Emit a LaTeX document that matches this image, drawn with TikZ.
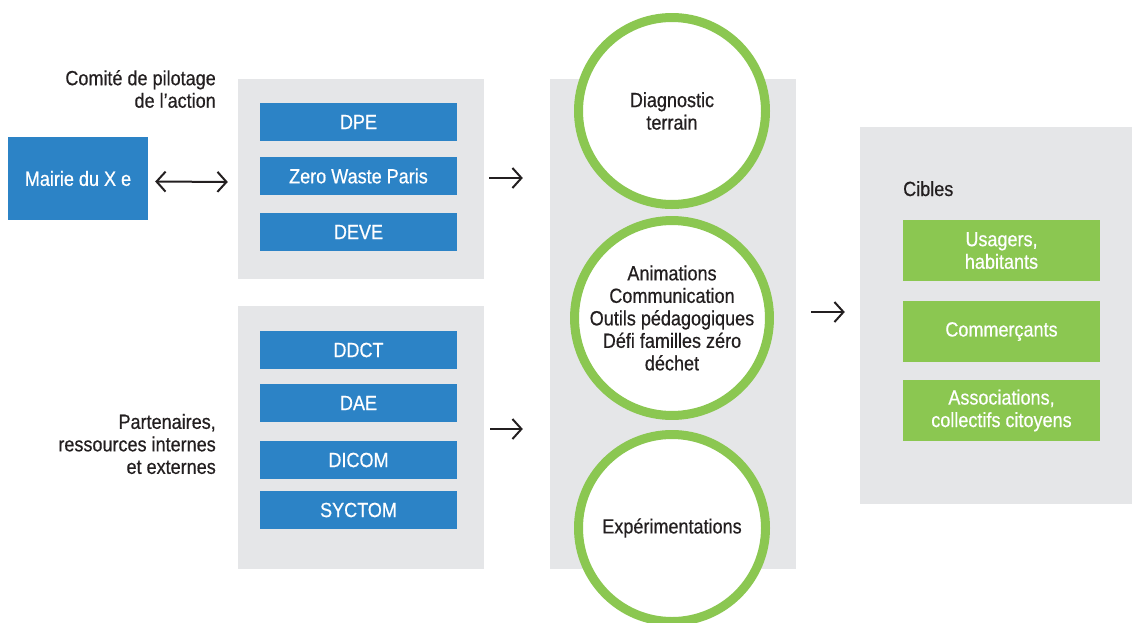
\documentclass[tikz,border=0pt]{standalone}
\usepackage{fontspec}
\setmainfont[FakeStretch=0.88, FakeBold=0.5]{Liberation Sans}
\usetikzlibrary{arrows.meta, positioning, calc}

\definecolor{bleu}{HTML}{2C83C6}
\definecolor{vert}{HTML}{8BC751}
\definecolor{gris}{HTML}{E5E6E8}
\definecolor{encre}{HTML}{231F20}

\tikzset{
	panneau/.style={fill=gris, inner sep=0pt},
	service/.style={fill=bleu, text=white, minimum width=197pt, minimum height=38pt, inner sep=0pt, align=center},
	cible/.style={fill=vert, text=white, minimum width=197pt, minimum height=61pt, inner sep=0pt, align=center},
	rond/.style={circle, draw=vert, line width=9pt, fill=white, minimum size=187pt, inner sep=0pt, align=center, text=encre},
	legende/.style={text=encre, inner sep=0pt, align=right, anchor=east},
	fleche/.style={-{Straight Barb[length=9pt, width=20pt]}, line width=2pt, draw=encre},
}

\begin{document}
\begin{tikzpicture}[x=1pt, y=-1pt, font=\fontsize{20.5}{22.5}\selectfont]
		\useasboundingbox (0, 0) rectangle (1132, 622);
		% panneaux gris
		\node[panneau, minimum width=246pt, minimum height=200pt] (haut) at (361, 179) {};
		\node[panneau, minimum width=246pt, minimum height=263pt] (bas) at (361, 437.5) {};
		\node[panneau, minimum width=246pt, minimum height=490pt] (milieu) at (673, 324) {};
		\node[panneau, minimum width=272pt, minimum height=377pt] (cibles) at (996, 315.5) {};
		% pilotage
		\node[legende] (pilotage) at (216, 89) {Comité de pilotage\\de l’action};
		\node[fill=bleu, text=white, minimum width=140pt, minimum height=83pt, inner sep=0pt] (mairie) at (78, 178.5) {Mairie du X e};
		\node[service] (dpe) at (358.5, 122) {DPE};
		\node[service] (zwp) at (358.5, 176) {Zero Waste Paris};
		\node[service] (deve) at (358.5, 232) {DEVE};
		% partenaires
		\node[legende] (partenaires) at (216, 444) {Partenaires,\\ressources internes\\et externes};
		\node[service] (ddct) at (358.5, 350) {DDCT};
		\node[service] (dae) at (358.5, 403) {DAE};
		\node[service] (dicom) at (358.5, 460) {DICOM};
		\node[service] (syctom) at (358.5, 510) {SYCTOM};
		% actions
		\node[rond] (diagnostic) at (672, 111) {Diagnostic\\terrain};
		\node[rond] (animations) at (672, 318) {Animations\\Communication\\Outils pédagogiques\\Défi familles zéro\\déchet};
		\node[rond] (experimentations) at (672, 528) {Expérimentations};
		% cibles
		\node[text=encre, inner sep=0pt, anchor=base west] (titrecibles) at (903, 196) {Cibles};
		\node[cible] (usagers) at (1001.5, 250.5) {Usagers,\\habitants};
		\node[cible] (commercants) at (1001.5, 331.5) {Commerçants};
		\node[cible] (associations) at (1001.5, 410.5) {Associations,\\collectifs citoyens};
		% fleches
		\draw[fleche, {Straight Barb[length=9pt, width=20pt]}-{Straight Barb[length=9pt, width=20pt]}, shorten <=7pt, shorten >=10pt] ([yshift=-3pt]mairie.east) -- ([yshift=-3pt]haut.west);
		\draw[fleche, shorten <=5pt, shorten >=27pt] ([yshift=1pt]haut.east) -- ([yshift=1pt]milieu.west |- haut.east);
		\draw[fleche, shorten <=6pt, shorten >=27pt] ([yshift=8.5pt]bas.east) -- ([yshift=8.5pt]milieu.west |- bas.east);
		\draw[fleche, shorten <=15pt, shorten >=15pt] ([yshift=3.5pt]milieu.east |- cibles.west) -- ([yshift=3.5pt]cibles.west);
	\end{tikzpicture}
\end{document}
